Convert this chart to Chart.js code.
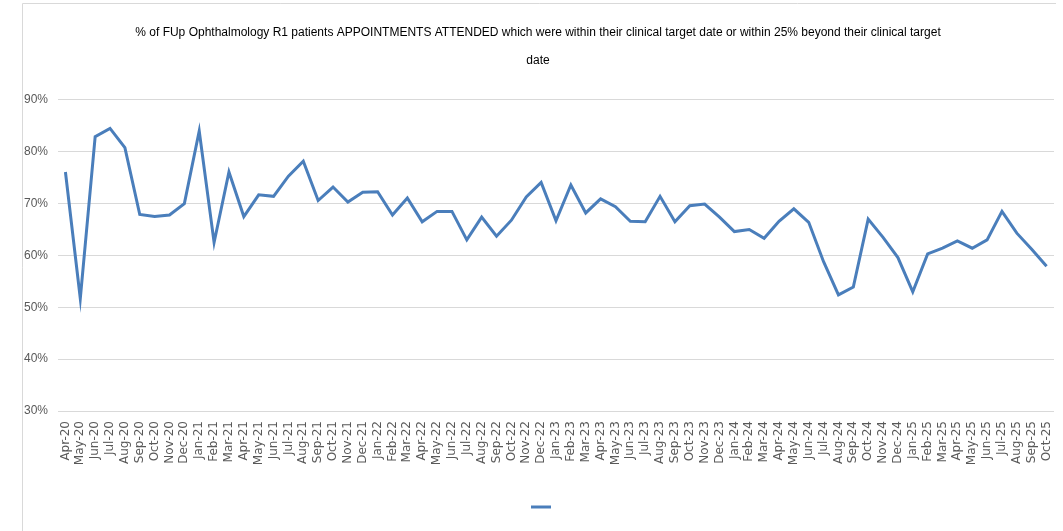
<!DOCTYPE html>
<html>
<head>
<meta charset="utf-8">
<script src="https://cdn.jsdelivr.net/npm/chart.js@4"></script>
<style>
  html, body { margin: 0; padding: 0; background: #fff; }
  #wrap { width: 1063px; height: 531px; position: relative; }
</style>
</head>
<body>
<div id="wrap"><canvas id="fupChart"></canvas></div>
<script>
var months = ['Apr-20','May-20','Jun-20','Jul-20','Aug-20','Sep-20','Oct-20','Nov-20','Dec-20',
  'Jan-21','Feb-21','Mar-21','Apr-21','May-21','Jun-21','Jul-21','Aug-21','Sep-21','Oct-21','Nov-21','Dec-21',
  'Jan-22','Feb-22','Mar-22','Apr-22','May-22','Jun-22','Jul-22','Aug-22','Sep-22','Oct-22','Nov-22','Dec-22',
  'Jan-23','Feb-23','Mar-23','Apr-23','May-23','Jun-23','Jul-23','Aug-23','Sep-23','Oct-23','Nov-23','Dec-23',
  'Jan-24','Feb-24','Mar-24','Apr-24','May-24','Jun-24','Jul-24','Aug-24','Sep-24','Oct-24','Nov-24','Dec-24',
  'Jan-25','Feb-25','Mar-25','Apr-25','May-25','Jun-25','Jul-25','Aug-25','Sep-25','Oct-25'];

var pctAttended = [76.1, 51.7, 82.9, 84.5, 80.8, 67.9, 67.5, 67.8, 70.0,
  84.0, 62.5, 76.1, 67.5, 71.7, 71.4, 75.3, 78.2, 70.6, 73.2, 70.3, 72.2,
  72.3, 67.8, 71.1, 66.5, 68.5, 68.5, 63.0, 67.4, 63.7, 66.8, 71.3, 74.1,
  66.7, 73.6, 68.2, 70.9, 69.4, 66.6, 66.5, 71.4, 66.5, 69.6, 69.9, 67.4,
  64.6, 65.0, 63.3, 66.6, 69.0, 66.4, 58.8, 52.4, 53.9, 67.0, 63.5, 59.6,
  53.0, 60.3, 61.4, 62.8, 61.4, 63.0, 68.5, 64.3, 61.2, 57.9];

var titleLines = ['% of FUp Ophthalmology R1 patients APPOINTMENTS ATTENDED which were within their clinical target date or within 25% beyond their clinical target', 'date'];

var lineBlue = '#4a7ebb';
var gridGrey = '#d9d9d9';
var textGrey = '#595959';

// frame round the chart, like the spreadsheet chart border
var framePlugin = {
  id: 'frame',
  beforeDraw: function(chart){
    var ctx = chart.ctx;
    ctx.save();
    ctx.strokeStyle = gridGrey;
    ctx.lineWidth = 1;
    ctx.beginPath();
    ctx.moveTo(22.5, 540);
    ctx.lineTo(22.5, 3.5);
    ctx.lineTo(1056, 3.5);
    ctx.stroke();
    ctx.restore();
  }
};

new Chart(document.getElementById('fupChart').getContext('2d'), {
  type: 'line',
  data: {
    labels: months,
    datasets: [{
      label: '',
      data: pctAttended,
      borderColor: lineBlue,
      backgroundColor: lineBlue,
      borderWidth: 3,
      pointRadius: 0,
      tension: 0,
      fill: false
    }]
  },
  options: {
    responsive: true,
    maintainAspectRatio: false,
    animation: false,
    layout: { padding: { left: 22, right: 9, top: 0, bottom: 8 } },
    plugins: {
      title: {
        display: true,
        text: titleLines,
        color: '#000',
        font: { family: '"Liberation Sans", Arial, sans-serif', size: 12, weight: 'normal', lineHeight: 2.33 },
        padding: { top: 19, bottom: 25 }
      },
      legend: {
        display: true,
        position: 'bottom',
        rtl: true,
        labels: {
          boxWidth: 20,
          boxHeight: 3,
          font: { size: 12 },
          generateLabels: function(){
            return [{ text: '', fillStyle: lineBlue, strokeStyle: lineBlue, lineWidth: 0, datasetIndex: 0 }];
          }
        }
      },
      tooltip: { enabled: false }
    },
    scales: {
      x: {
        offset: true,
        grid: { display: false, drawTicks: false },
        border: { display: false },
        afterFit: function(scale){ scale.height = 80; scale.paddingLeft = 0; scale.paddingRight = 0; },
        ticks: {
          autoSkip: false,
          maxRotation: 90,
          minRotation: 90,
          padding: 10,
          color: textGrey,
          font: { family: '"DejaVu Sans", Verdana, sans-serif', size: 12 }
        }
      },
      y: {
        min: 30,
        max: 90,
        grid: { color: gridGrey, lineWidth: 1, drawTicks: false },
        border: { display: false },
        afterFit: function(scale){ scale.width = 36; },
        ticks: {
          stepSize: 10,
          padding: 10,
          color: textGrey,
          font: { family: '"Liberation Sans", Arial, sans-serif', size: 12 },
          callback: function(v){ return v + '%'; }
        }
      }
    }
  },
  plugins: [framePlugin]
});
</script>
</body>
</html>
